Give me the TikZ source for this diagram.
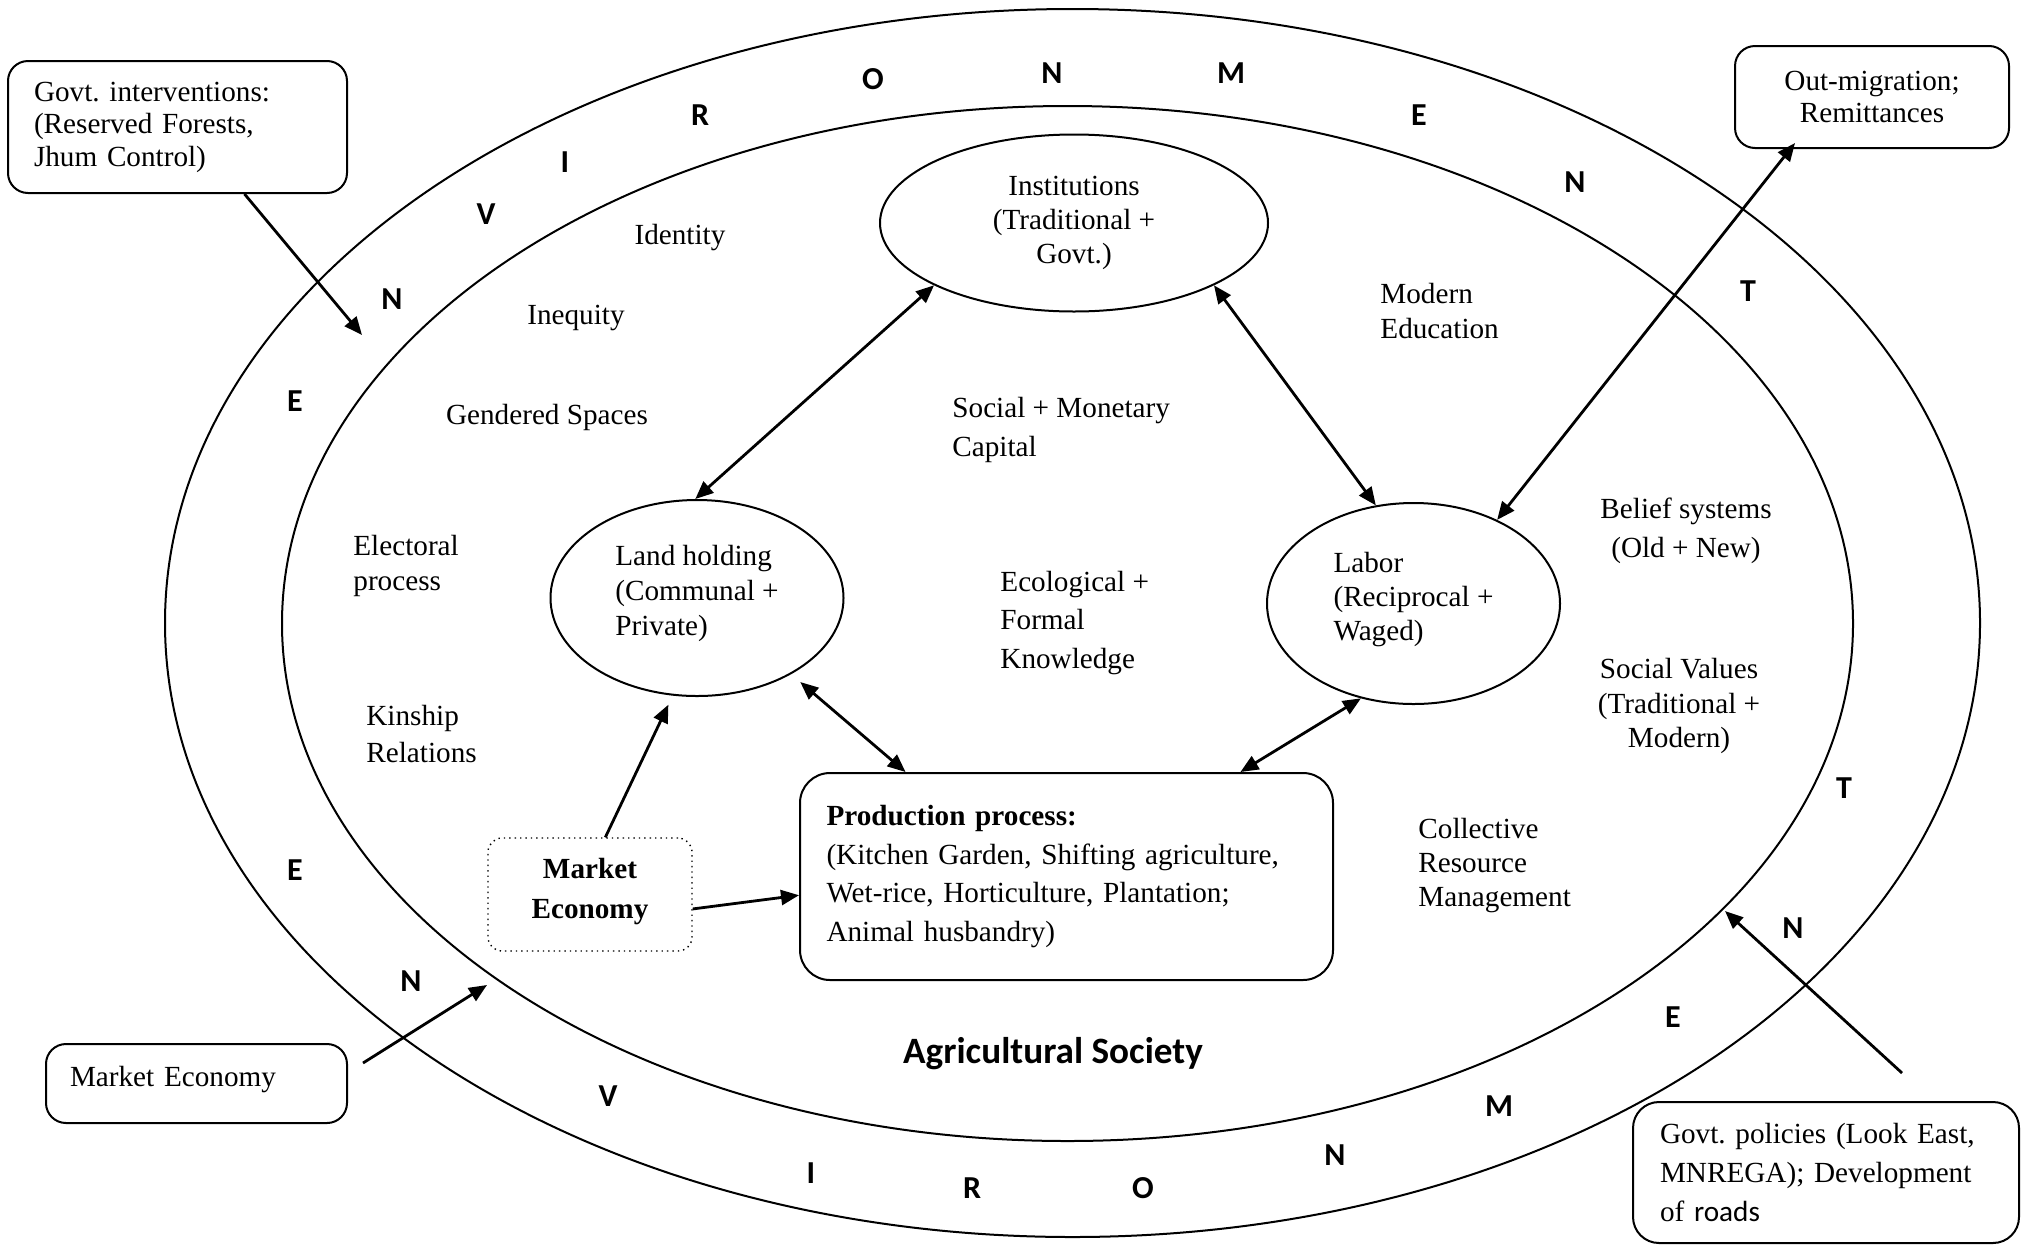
\documentclass[tikz,border=0pt]{standalone}
\usepackage{fontspec}
\setmainfont{Liberation Serif}
\newfontfamily\carl{Carlito}
\usetikzlibrary{arrows.meta,shapes.geometric,calc}
\frenchspacing
\begin{document}
\frenchspacing
\begin{tikzpicture}[x=0.5pt,y=-0.5pt,
  txt/.style={font=\fontsize{14.6}{17}\selectfont, inner sep=0pt, align=left},
  ctxt/.style={font=\fontsize{14.6}{17}\selectfont, inner sep=0pt, align=center},
  letter/.style={font=\carl\bfseries\fontsize{16}{18}\selectfont, inner sep=0pt},
  ell/.style={draw, ellipse, line width=1pt, inner sep=0pt},
  box/.style={draw, rectangle, rounded corners=10pt, line width=1pt, inner ysep=0pt},
  arr/.style={-{Triangle[length=9pt,width=7.5pt]}, line width=1.4pt},
  biarr/.style={{Triangle[length=9pt,width=7.5pt]}-{Triangle[length=9pt,width=7.5pt]}, line width=1.4pt}]
\useasboundingbox (0,0) rectangle (2021,1253);

% environment ellipses
\node[ell, minimum width=907.5pt, minimum height=614pt] (outer) at (1072.5,623) {};
\node[ell, minimum width=785.5pt, minimum height=517.5pt] (inner) at (1067.5,623.5) {};

% ENVIRONMENT letters
\node[letter] (e1) at (295,401) {E};
\node[letter] (e2) at (392,299) {N};
\node[letter] (e3) at (486,214) {V};
\node[letter] (e4) at (565,162) {I};
\node[letter] (e5) at (700,115) {R};
\node[letter] (e6) at (873,79) {O};
\node[letter] (e7) at (1052,73) {N};
\node[letter] (e8) at (1231,73) {M};
\node[letter] (e9) at (1419,115) {E};
\node[letter] (e10) at (1575,182) {N};
\node[letter] (e11) at (1748,291) {T};
\node[letter] (f1) at (1844,788) {T};
\node[letter] (f2) at (1793,928) {N};
\node[letter] (f3) at (1673,1017) {E};
\node[letter] (f4) at (1499,1106) {M};
\node[letter] (f5) at (1335,1155) {N};
\node[letter] (f6) at (1143,1188) {O};
\node[letter] (f7) at (972,1188) {R};
\node[letter] (f8) at (811,1173) {I};
\node[letter] (f9) at (608,1096) {V};
\node[letter] (f10) at (411,981) {N};
\node[letter] (f11) at (295,870) {E};

% main ellipses
\node[ell, minimum width=194pt, minimum height=88.5pt, align=center,
  font=\fontsize{14.6}{17}\selectfont] (I) at (1074,223)
  {Institutions\\(Traditional +\\Govt.)};
\node[ell, minimum width=146.5pt, minimum height=98pt, align=left, text depth=8pt,
  font=\fontsize{14.6}{17.5}\selectfont] (L) at (697,598)
  {Land holding\\(Communal +\\Private)};
\node[ell, minimum width=146.5pt, minimum height=100.5pt, align=left, text depth=7pt,
  font=\fontsize{14.6}{17}\selectfont] (B) at (1413.5,603.5)
  {Labor\\(Reciprocal +\\Waged)};

% production box
\node[box, rounded corners=15pt, text width=240pt, inner xsep=13.25pt, minimum height=103.5pt,
  align=left, font=\fontsize{14.6}{19.25}\selectfont] (P) at (1066.5,876.5)
  {\textbf{Production process:}\\(Kitchen Garden, Shifting agriculture,\\Wet-rice, Horticulture, Plantation;\\Animal husbandry)};

% market economy dotted
\node[draw, dotted, line width=0.7pt, rounded corners=7pt, minimum width=102pt, minimum height=56.5pt,
  inner sep=0pt, align=center, text depth=6pt, font=\bfseries\fontsize{14.6}{20}\selectfont] (M) at (590,894.5)
  {Market\\Economy};

% outer boxes
\node[box, minimum width=169.5pt, minimum height=66pt, text width=143.5pt, inner xsep=13pt,
  align=left, font=\fontsize{14.6}{16.25}\selectfont] (G) at (177.5,127)
  {Govt. interventions:\\(Reserved Forests,\\Jhum Control)};
\node[box, minimum width=137pt, minimum height=51pt, inner xsep=0pt, align=center,
  font=\fontsize{14.6}{16}\selectfont] (O) at (1872,97)
  {Out-migration;\\Remittances};
\node[box, minimum width=150.5pt, minimum height=39.5pt, text width=126.5pt, inner xsep=12pt,
  align=left, text depth=7pt, font=\fontsize{14.6}{17}\selectfont] (ME) at (196.5,1083.5)
  {Market Economy};
\node[box, rounded corners=13pt, minimum width=193pt, minimum height=70.5pt, text width=166pt, inner xsep=13.5pt,
  align=left, font=\fontsize{14.6}{19.5}\selectfont] (GP) at (1826,1172.5)
  {Govt. policies (Look East,\\MNREGA); Development\\of {\carl roads}};

% free labels
\node[txt] (identity) at (680,238) {Identity};
\node[txt] (inequity) at (576,318) {Inequity};
\node[txt] (gendered) at (547,417) {Gendered Spaces};
\node[txt, anchor=west, font=\fontsize{14.6}{17.5}\selectfont] (electoral) at (353,566) {Electoral\\process};
\node[txt, anchor=west, font=\fontsize{14.6}{18.5}\selectfont] (kinship) at (366,734) {Kinship\\Relations};
\node[txt, anchor=west, font=\fontsize{14.6}{19.25}\selectfont] (capital) at (952,430) {Social + Monetary\\Capital};
\node[txt, anchor=west, font=\fontsize{14.6}{19.25}\selectfont] (knowledge) at (1000,623) {Ecological +\\Formal\\Knowledge};
\node[txt, anchor=west, font=\fontsize{14.6}{17.5}\selectfont] (education) at (1380,311) {Modern\\Education};
\node[ctxt, font=\fontsize{14.6}{19.5}\selectfont] (belief) at (1686,531) {Belief systems\\(Old + New)};
\node[ctxt, font=\fontsize{14.6}{17.25}\selectfont] (values) at (1679,706) {Social Values\\(Traditional +\\Modern)};
\node[txt, anchor=west, font=\fontsize{14.6}{17}\selectfont] (collective) at (1418,866) {Collective\\Resource\\Management};
\node[inner sep=0pt, font=\carl\bfseries\fontsize{18.6}{21}\selectfont] (agri) at (1053,1054) {Agricultural Society};

% connectors
\draw[biarr] (L.91) -- (I.204.8);
\draw[biarr] (B.111.4) -- (I.336.7);
\draw[biarr, shorten <=6pt] (L.321) -- (P.147.3);
\draw[biarr] (B.241) -- (P.31.6);
\draw[arr, shorten >=5pt] (M.75) -- (L.256);
\draw[arr] (M.352) -- (P.184.2);
\draw[biarr] (B.45.7) -- ([shift={(-77,-6)}]O.south);

\coordinate (giE) at (362,335);
\draw[arr] (G.315.2) -- (giE);
\coordinate (meE) at (487,985);
\draw[arr] ([shift={(15,-20.5)}]ME.east) -- (meE);
\coordinate (gpE) at (1725,911);
\draw[arr] ([shift={(76,-28)}]GP.north) -- (gpE);
\end{tikzpicture}
\end{document}
